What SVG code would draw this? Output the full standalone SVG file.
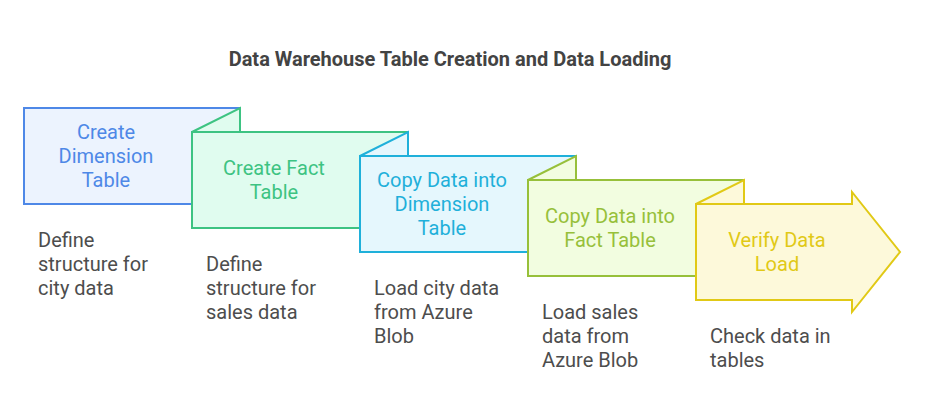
<svg xmlns="http://www.w3.org/2000/svg" width="925" height="420" viewBox="0 0 925 420">
<style>
text{font-family:Roboto,"Liberation Sans",sans-serif}
.t{font-size:20px;font-weight:bold;fill:#434343}
.n{font-size:20px;text-anchor:middle}
.d{font-size:20px;fill:#4d4d4d}
.s{stroke-width:2;stroke-linejoin:miter}
</style>
<rect width="925" height="420" fill="#ffffff"/>
<text class="t" x="450" y="66" text-anchor="middle">Data Warehouse Table Creation and Data Loading</text>
<g id="node1">
<path class="s" d="M24,108 H240 V204 H24 Z" fill="#ecf3fe" stroke="#4e88e7"/>
<text class="n" fill="#4e88e7" x="106"><tspan x="106" y="139">Create</tspan><tspan x="106" y="163">Dimension</tspan><tspan x="106" y="187">Table</tspan></text>
<text class="d"><tspan x="38" y="247">Define</tspan><tspan x="38" y="271">structure for</tspan><tspan x="38" y="295">city data</tspan></text>
</g>
<g id="node2">
<path class="s" d="M192,132 H408 V228 H192 Z M192,132 L240,108 V132" fill="#e0fcef" stroke="#3dc382"/>
<text class="n" fill="#3dc382"><tspan x="274" y="175">Create Fact</tspan><tspan x="274" y="199">Table</tspan></text>
<text class="d"><tspan x="206" y="271">Define</tspan><tspan x="206" y="295">structure for</tspan><tspan x="206" y="319">sales data</tspan></text>
</g>
<g id="node3">
<path class="s" d="M360,156 H576 V252 H360 Z M360,156 L408,132 V156" fill="#e5f7fd" stroke="#1fb0da"/>
<text class="n" fill="#1fb0da"><tspan x="442" y="187">Copy Data into</tspan><tspan x="442" y="211">Dimension</tspan><tspan x="442" y="235">Table</tspan></text>
<text class="d"><tspan x="374" y="295">Load city data</tspan><tspan x="374" y="319">from Azure</tspan><tspan x="374" y="343">Blob</tspan></text>
</g>
<g id="node4">
<path class="s" d="M528,180 H744 V276 H528 Z M528,180 L576,156 V180" fill="#f2fde0" stroke="#97c03a"/>
<text class="n" fill="#97c03a"><tspan x="610" y="223">Copy Data into</tspan><tspan x="610" y="247">Fact Table</tspan></text>
<text class="d"><tspan x="542" y="319">Load sales</tspan><tspan x="542" y="343">data from</tspan><tspan x="542" y="367">Azure Blob</tspan></text>
</g>
<g id="node5">
<path class="s" d="M696,204 H852 V192 L900,252 L852,312 V300 H696 Z M696,204 L744,180 V204" fill="#fdf9da" stroke="#e1c916"/>
<text class="n" fill="#e1c916"><tspan x="777" y="247">Verify Data</tspan><tspan x="777" y="271">Load</tspan></text>
<text class="d"><tspan x="710" y="343">Check data in</tspan><tspan x="710" y="367">tables</tspan></text>
</g>
<g id="connectors"></g>
</svg>
